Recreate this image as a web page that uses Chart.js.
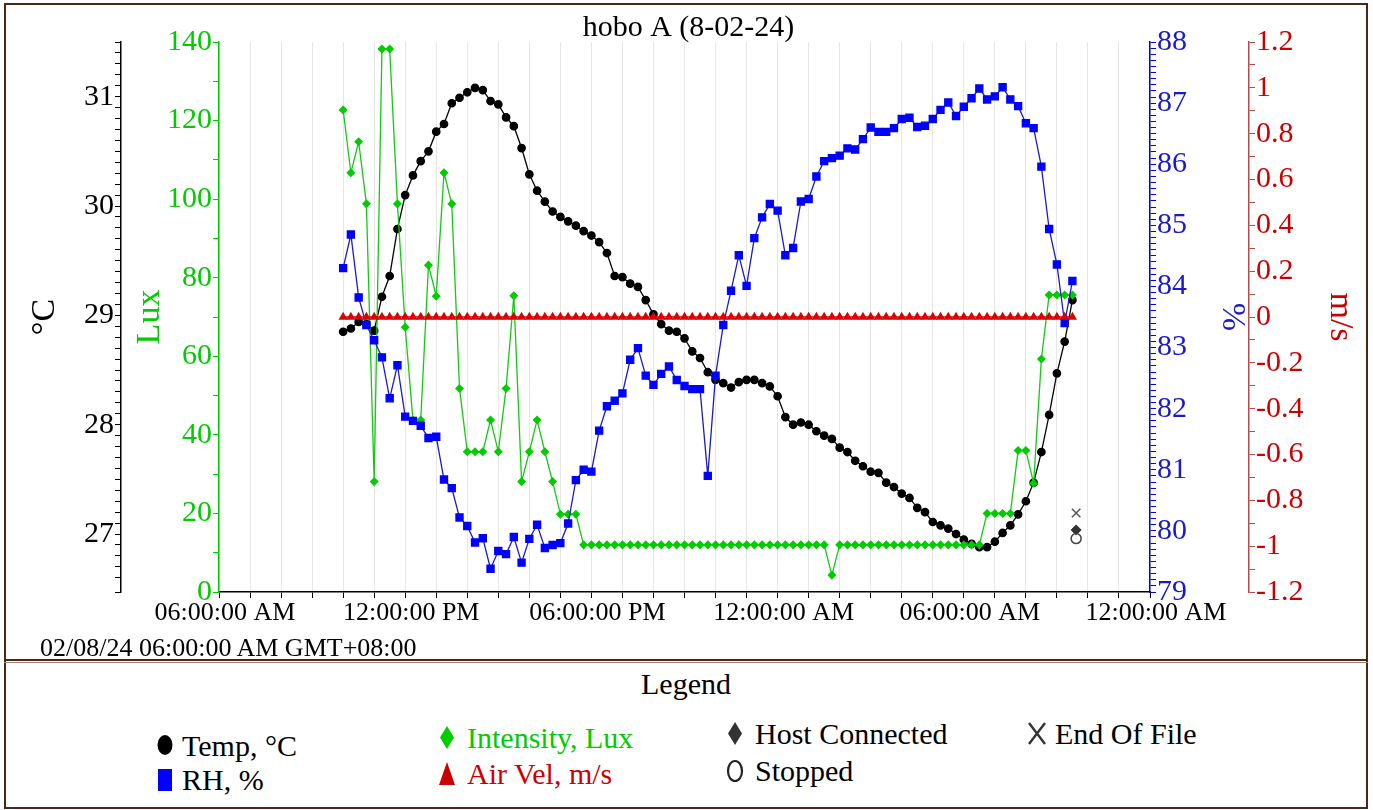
<!DOCTYPE html>
<html>
<head>
<meta charset="utf-8">
<title>hobo A (8-02-24)</title>
<script src="https://cdn.jsdelivr.net/npm/chart.js@4.4.1/dist/chart.umd.min.js"></script>
<style>
    html, body { margin: 0; padding: 0; background: #fff; }
    body {
        width: 1373px; height: 810px; position: relative; overflow: hidden;
        font-family: "Liberation Serif", "Times New Roman", serif;
    }
    #plot { position: absolute; left: 0; top: 0; width: 1373px; height: 660px; }
    .line { position: absolute; background: #4a2816; }
    .txt { position: absolute; white-space: nowrap; transform: translateY(-50%); line-height: 1; }
    .mk { position: absolute; }
</style>
</head>
<body>
<div id="plot"><canvas id="hoboChart"></canvas></div>

<!-- outer frame and panel divider -->
<div class="line" style="left:4px; top:3px; width:1364px; height:2px;"></div>
<div class="line" style="left:4px; top:3px; width:2px; height:806px;"></div>
<div class="line" style="left:1366px; top:3px; width:2px; height:806px;"></div>
<div class="line" style="left:4px; top:807px; width:1364px; height:2px;"></div>
<div class="line" style="left:4px; top:659px; width:1364px; height:2px;"></div>
<div class="line" style="left:4px; top:662px; width:1364px; height:1px; background:#9a8070;"></div>

<div class="txt" style="left:40px; top:648px; font-size:26px;">02/08/24 06:00:00 AM GMT+08:00</div>

<!-- legend panel -->
<div class="txt" style="left:641px; top:684px; font-size:30px;">Legend</div>

<svg class="mk" style="left:155px; top:734px;" width="20" height="22"><ellipse cx="10" cy="11" rx="7.5" ry="10" fill="#000"/></svg>
<div class="txt" style="left:182px; top:746px; font-size:30px;">Temp, °C</div>
<svg class="mk" style="left:156px; top:768px;" width="18" height="24"><rect x="2" y="1" width="14" height="22" fill="#0000ff"/></svg>
<div class="txt" style="left:182px; top:780px; font-size:30px;">RH, %</div>

<svg class="mk" style="left:438px; top:725px;" width="18" height="25"><polygon points="9,1 16,12.5 9,24 2,12.5" fill="#00cc00"/></svg>
<div class="txt" style="left:467px; top:738px; font-size:30px; color:#00cc00;">Intensity, Lux</div>
<svg class="mk" style="left:438px; top:761px;" width="18" height="25"><polygon points="9,1 17,24 1,24" fill="#cc0000"/></svg>
<div class="txt" style="left:467px; top:774px; font-size:30px; color:#cc0000;">Air Vel, m/s</div>

<svg class="mk" style="left:726px; top:721px;" width="18" height="25"><polygon points="9,1 16,12.5 9,24 2,12.5" fill="#333"/></svg>
<div class="txt" style="left:755px; top:734px; font-size:30px;">Host Connected</div>
<svg class="mk" style="left:725px; top:759px;" width="20" height="24"><ellipse cx="10" cy="12" rx="7" ry="10" fill="none" stroke="#222" stroke-width="2.2"/></svg>
<div class="txt" style="left:755px; top:771px; font-size:30px;">Stopped</div>

<svg class="mk" style="left:1026px; top:721px;" width="22" height="25"><path d="M3 2 L19 23 M19 2 L3 23" stroke="#333" stroke-width="2.4"/></svg>
<div class="txt" style="left:1055px; top:734px; font-size:30px;">End Of File</div>

<script>
// logger: 15 min interval, first sample 10:00 AM (hours counted from 06:00 AM)
const firstSampleHour = 4;
const sampleStepHours = 0.25;

const xTickLabels = ['06:00:00 AM', '12:00:00 PM', '06:00:00 PM', '12:00:00 AM', '06:00:00 AM', '12:00:00 AM'];
const xLabelEveryHours = 6;

const tempC = [
    28.85, 28.88, 28.94, 28.92, 28.86, 29.17, 29.36, 29.79, 30.10, 30.28,
    30.41, 30.50, 30.68, 30.75, 30.94, 30.99, 31.04, 31.08, 31.06, 30.96,
    30.93, 30.81, 30.73, 30.53, 30.29, 30.14, 30.04, 29.95, 29.90, 29.86,
    29.82, 29.77, 29.73, 29.67, 29.57, 29.36, 29.35, 29.29, 29.26, 29.14,
    29.01, 28.92, 28.86, 28.85, 28.79, 28.67, 28.61, 28.48, 28.41, 28.38,
    28.34, 28.39, 28.41, 28.41, 28.38, 28.35, 28.26, 28.07, 28.00, 28.02,
    28.00, 27.94, 27.90, 27.87, 27.79, 27.75, 27.67, 27.62, 27.57, 27.56,
    27.47, 27.43, 27.37, 27.33, 27.24, 27.20, 27.11, 27.08, 27.05, 27.00,
    26.95, 26.91, 26.88, 26.88, 26.93, 27.01, 27.08, 27.18, 27.30, 27.47,
    27.75, 28.09, 28.47, 28.76, 29.14
];

const rhPct = [
    84.30, 84.85, 83.82, 83.37, 83.12, 82.84, 82.17, 82.71, 81.87, 81.80,
    81.72, 81.52, 81.54, 80.84, 80.70, 80.22, 80.08, 79.81, 79.88, 79.38,
    79.67, 79.62, 79.90, 79.48, 79.87, 80.10, 79.72, 79.77, 79.80, 80.12,
    80.83, 81.00, 80.97, 81.64, 82.04, 82.13, 82.25, 82.80, 82.99, 82.54,
    82.39, 82.57, 82.69, 82.47, 82.37, 82.32, 82.32, 80.90, 82.54, 83.37,
    83.93, 84.51, 84.01, 84.79, 85.13, 85.35, 85.24, 84.51, 84.63, 85.39,
    85.43, 85.80, 86.05, 86.10, 86.14, 86.26, 86.24, 86.41, 86.60, 86.53,
    86.53, 86.59, 86.74, 86.76, 86.61, 86.63, 86.74, 86.89, 87.01, 86.79,
    86.94, 87.08, 87.24, 87.06, 87.11, 87.26, 87.06, 86.95, 86.67, 86.59,
    85.96, 84.94, 84.36, 83.40, 84.09
];

const luxValues = [
    122.7, 106.7, 114.6, 98.8, 28.1, 138.2, 138.2, 98.8, 67.4, 43.8,
    43.8, 83.2, 75.3, 106.7, 98.8, 51.8, 35.7, 35.7, 35.7, 43.8,
    35.7, 51.8, 75.4, 28.1, 35.7, 43.8, 35.7, 28.1, 19.8, 19.8,
    19.8, 12.0, 12.0, 12.0, 12.0, 12.0, 12.0, 12.0, 12.0, 12.0,
    12.0, 12.0, 12.0, 12.0, 12.0, 12.0, 12.0, 12.0, 12.0, 12.0,
    12.0, 12.0, 12.0, 12.0, 12.0, 12.0, 12.0, 12.0, 12.0, 12.0,
    12.0, 12.0, 12.0, 4.3, 12.0, 12.0, 12.0, 12.0, 12.0, 12.0,
    12.0, 12.0, 12.0, 12.0, 12.0, 12.0, 12.0, 12.0, 12.0, 12.0,
    12.0, 12.0, 12.0, 20.0, 20.0, 20.0, 20.0, 36.0, 36.0, 27.7,
    59.3, 75.6, 75.6, 75.6, 75.6
];

const airVel = [
    0, 0, 0, 0, 0, 0, 0, 0, 0, 0,
    0, 0, 0, 0, 0, 0, 0, 0, 0, 0,
    0, 0, 0, 0, 0, 0, 0, 0, 0, 0,
    0, 0, 0, 0, 0, 0, 0, 0, 0, 0,
    0, 0, 0, 0, 0, 0, 0, 0, 0, 0,
    0, 0, 0, 0, 0, 0, 0, 0, 0, 0,
    0, 0, 0, 0, 0, 0, 0, 0, 0, 0,
    0, 0, 0, 0, 0, 0, 0, 0, 0, 0,
    0, 0, 0, 0, 0, 0, 0, 0, 0, 0,
    0, 0, 0, 0, 0
];

// event markers (drawn against the Lux axis)
const eventNames = ['End Of File', 'Host Connected', 'Stopped'];
const eventHours = [27.62, 27.62, 27.62];
const eventLux = [20.1, 15.8, 13.6];

const tempTicks = [27, 28, 29, 30, 31];
const luxTicks = [0, 20, 40, 60, 80, 100, 120, 140];
const rhTicks = [79, 80, 81, 82, 83, 84, 85, 86, 87, 88];
const velTicks = [-1.2, -1, -0.8, -0.6, -0.4, -0.2, 0, 0.2, 0.4, 0.6, 0.8, 1, 1.2];

const serif = '"Liberation Serif", "Times New Roman", serif';
Chart.defaults.font.family = serif;

const sampleHours = tempC.map((_, i) => firstSampleHour + i * sampleStepHours);
const asPoints = vals => vals.map((v, i) => ({ x: sampleHours[i], y: v }));

function majorLabel(list) {
    return function (v) {
        const m = list.find(t => Math.abs(t - v) < 1e-6);
        return m === undefined ? '' : String(m);
    };
}

function yAxis(position, color, lineColor, min, max, step, majors, title, width, titlePad, weight) {
    return {
        type: 'linear',
        position: position,
        weight: weight,
        min: min,
        max: max,
        afterFit: function (scale) { scale.width = width; },
        border: { display: true, color: lineColor, width: 1.5 },
        grid: { drawOnChartArea: false, color: lineColor, tickColor: lineColor, tickLength: 6 },
        ticks: {
            stepSize: step,
            autoSkip: false,
            color: color,
            padding: 1,
            font: { size: 30, lineHeight: 1.2 },
            callback: majorLabel(majors)
        },
        title: {
            display: true,
            text: title,
            color: color,
            font: { size: 34, lineHeight: 1 },
            padding: { top: titlePad, bottom: 0 }
        }
    };
}

const ctx = document.getElementById('hoboChart').getContext('2d');
new Chart(ctx, {
    type: 'line',
    data: {
        datasets: [
            {
                label: eventNames[0],
                data: [{ x: eventHours[0], y: eventLux[0] }],
                yAxisID: 'yL',
                showLine: false,
                pointStyle: 'crossRot',
                pointRadius: 6,
                pointBorderWidth: 1.5,
                pointBorderColor: '#555',
                order: -1
            },
            {
                label: eventNames[1],
                data: [{ x: eventHours[1], y: eventLux[1] }],
                yAxisID: 'yL',
                showLine: false,
                pointStyle: 'rectRot',
                pointRadius: 5,
                pointBackgroundColor: '#333',
                pointBorderColor: '#333',
                order: -1
            },
            {
                label: eventNames[2],
                data: [{ x: eventHours[2], y: eventLux[2] }],
                yAxisID: 'yL',
                showLine: false,
                pointStyle: 'circle',
                pointRadius: 5,
                pointBorderWidth: 1.5,
                pointBackgroundColor: 'rgba(255,255,255,0)',
                pointBorderColor: '#444',
                order: -2
            },
            {
                label: 'Air Vel, m/s',
                data: asPoints(airVel),
                yAxisID: 'yV',
                borderColor: '#dd0000',
                borderWidth: 1.3,
                pointStyle: 'triangle',
                pointRadius: 4,
                pointBackgroundColor: '#dd0000',
                pointBorderColor: '#dd0000',
                order: 0
            },
            {
                label: 'RH, %',
                data: asPoints(rhPct),
                yAxisID: 'yR',
                borderColor: '#1a1ad0',
                borderWidth: 1.3,
                pointStyle: 'rect',
                pointRadius: 5,
                pointBackgroundColor: '#0000ff',
                pointBorderColor: '#0000ff',
                order: 1
            },
            {
                label: 'Intensity, Lux',
                data: asPoints(luxValues),
                yAxisID: 'yL',
                borderColor: '#11cc11',
                borderWidth: 1.3,
                pointStyle: 'rectRot',
                pointRadius: 3.6,
                pointBackgroundColor: '#00cc00',
                pointBorderColor: '#00cc00',
                order: 2
            },
            {
                label: 'Temp, °C',
                data: asPoints(tempC),
                yAxisID: 'yT',
                borderColor: '#000',
                borderWidth: 1.3,
                pointStyle: 'circle',
                pointRadius: 3.7,
                pointBackgroundColor: '#000',
                pointBorderColor: '#000',
                order: 3
            }
        ]
    },
    options: {
        responsive: true,
        maintainAspectRatio: false,
        animation: false,
        events: [],
        layout: { padding: { left: 20, right: 16, top: 0, bottom: 28 } },
        scales: {
            x: {
                type: 'linear',
                min: 0,
                max: 30,
                afterFit: function (scale) { scale.height = 40; },
                border: { display: true, color: '#000', width: 1.5 },
                grid: { color: '#e6e6e6', tickColor: '#000', tickLength: 6, lineWidth: 1 },
                ticks: {
                    stepSize: 1,
                    autoSkip: false,
                    maxRotation: 0,
                    color: '#000',
                    padding: 0,
                    labelOffset: 6,
                    font: { size: 26, lineHeight: 1.2 },
                    callback: v => v % xLabelEveryHours === 0 ? xTickLabels[v / xLabelEveryHours] : ''
                }
            },
            yL: yAxis('left', '#00cc00', '#00cc00', 0, 140, 10, luxTicks, 'Lux', 98, 12, 1),
            yT: yAxis('left', '#000', '#000', 26.47, 31.5, 0.1, tempTicks, '°C', 101, 8, 2),
            yR: yAxis('right', '#1a1acc', '#0000ee', 79, 88, 0.1, rhTicks, '%', 99, 0, 1),
            yV: yAxis('right', '#cc0000', '#b84a4a', -1.2, 1.2, 0.1, velTicks, 'm/s', 108, 0, 2)
        },
        plugins: {
            legend: { display: false },
            tooltip: { enabled: false },
            title: {
                display: true,
                text: 'hobo A (8-02-24)',
                color: '#000',
                font: { size: 30, weight: 'normal', lineHeight: 0.9 },
                padding: { top: 15, bottom: 0 }
            }
        }
    }
});
</script>
</body>
</html>
